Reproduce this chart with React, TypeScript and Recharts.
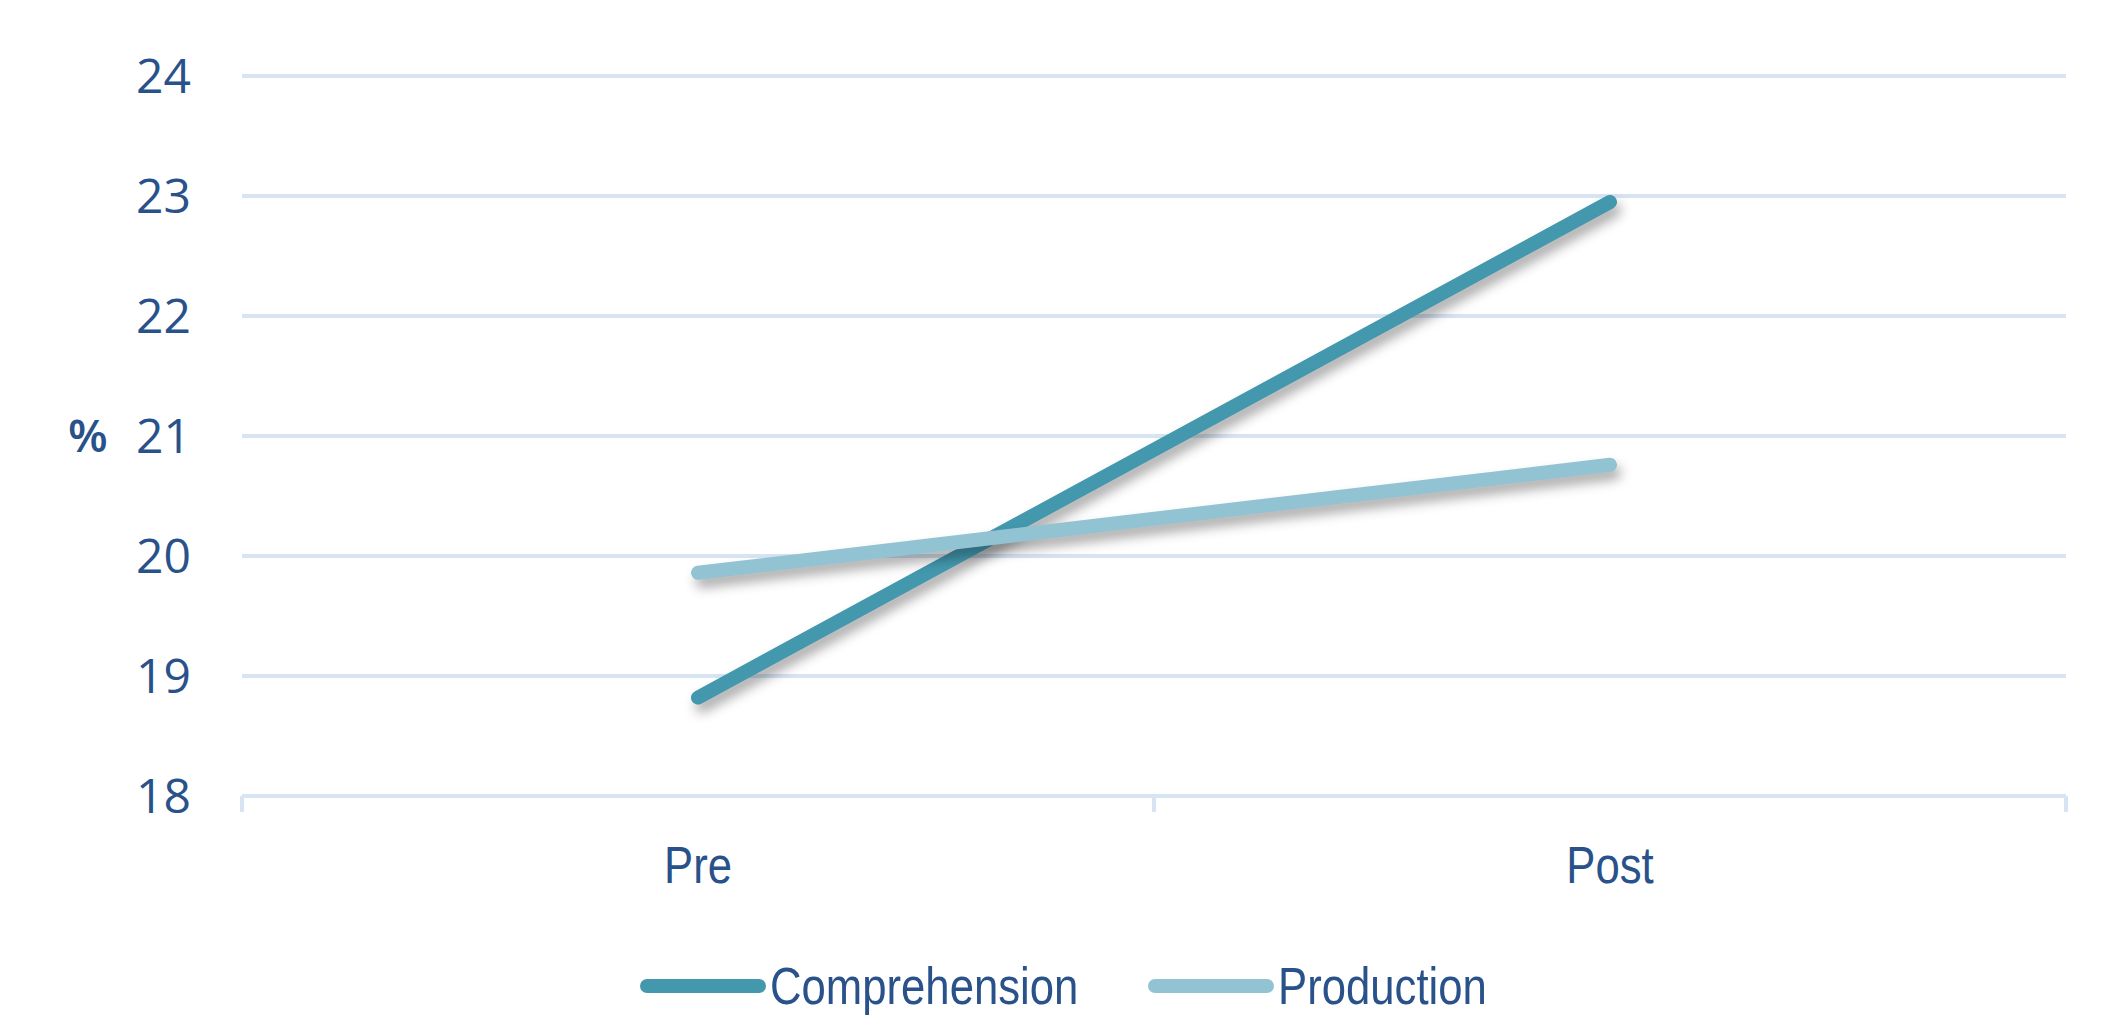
import React from "react";
import { LineChart, Line, XAxis, YAxis, CartesianGrid } from "recharts";

const categories: string[] = ["Pre", "Post"];
const comprehension: number[] = [18.82, 22.95];
const production: number[] = [19.86, 20.76];
const yTicks: number[] = [18, 19, 20, 21, 22, 23, 24];

const seriesNames: string[] = ["Comprehension", "Production"];
const COLORS: string[] = ["#4398AE", "#92C3D3"];

const TEXT = "#29518A";
const GRID = "#D6E4F4";
const LABEL_FONT = '"Liberation Sans", Arial, sans-serif';
const LABEL_SIZE = 52;
// no narrow face available, so squeeze the regular one horizontally
const SQUEEZE = 0.84;

// each category sits in the middle of its band; band edges get the small tick marks
const data = categories.map((label, i) => ({
  pos: i + 0.5,
  label,
  comprehension: comprehension[i],
  production: production[i],
}));

const xTicks: number[] = [];
for (let i = 0; i <= categories.length; i++) {
  xTicks.push(i);
  if (i < categories.length) xTicks.push(i + 0.5);
}

let measureCtx: CanvasRenderingContext2D | null = null;
const textWidth = (s: string): number => {
  if (!measureCtx) measureCtx = document.createElement("canvas").getContext("2d");
  if (!measureCtx) return s.length * LABEL_SIZE * 0.5;
  measureCtx.font = `${LABEL_SIZE}px ${LABEL_FONT}`;
  return measureCtx.measureText(s).width;
};

type TickProps = { x?: number; y?: number; payload?: { value: number } };

const BandTick: React.FC<TickProps> = ({ x = 0, y = 0, payload }) => {
  const v = payload ? payload.value : 0;
  if (Number.isInteger(v)) {
    return <line x1={x} y1={y} x2={x} y2={y + 16} stroke={GRID} strokeWidth={4} />;
  }
  return (
    <g transform={`translate(${x},${y + 50}) scale(${SQUEEZE},1)`}>
      <text x={0} y={0} dy="0.71em" textAnchor="middle" fill={TEXT} fontFamily={LABEL_FONT} fontSize={LABEL_SIZE}>
        {categories[Math.floor(v)]}
      </text>
    </g>
  );
};

const ChartLegend: React.FC = () => (
  <div
    style={{
      position: "absolute",
      top: 955,
      left: 640,
      display: "flex",
      alignItems: "center",
      fontFamily: LABEL_FONT,
      fontSize: LABEL_SIZE,
      color: TEXT,
      whiteSpace: "nowrap",
      lineHeight: "62px",
    }}
  >
    {seriesNames.map((name, i) => (
      <div key={name} style={{ display: "flex", alignItems: "center", marginRight: i === 0 ? 70 : 0 }}>
        <span
          style={{
            display: "inline-block",
            width: 126,
            height: 14,
            borderRadius: 7,
            backgroundColor: COLORS[i],
            marginRight: 4,
          }}
        />
        <span style={{ display: "inline-block", width: textWidth(name) * SQUEEZE, overflow: "visible" }}>
          <span style={{ display: "inline-block", transform: `scaleX(${SQUEEZE})`, transformOrigin: "left center" }}>
            {name}
          </span>
        </span>
      </div>
    ))}
  </div>
);

const App: React.FC = () => {
  return (
    <div style={{ position: "relative", width: 2103, height: 1018, background: "#fff" }}>
      <style>{`
        body { margin: 0; }
        .recharts-line-curve { filter: drop-shadow(4px 8px 6px rgba(0,0,0,0.33)); }
      `}</style>
      <LineChart width={2103} height={1018} data={data} margin={{ top: 76, right: 37, bottom: 122, left: 92 }}>
        <CartesianGrid vertical={false} stroke={GRID} strokeWidth={4} />
        <XAxis
          dataKey="pos"
          type="number"
          domain={[0, categories.length]}
          ticks={xTicks}
          interval={0}
          height={100}
          axisLine={{ stroke: GRID, strokeWidth: 4 }}
          tickLine={false}
          tickSize={0}
          tickMargin={0}
          tick={<BandTick />}
        />
        <YAxis
          type="number"
          domain={[18, 24]}
          ticks={yTicks}
          interval={0}
          width={150}
          axisLine={false}
          tickLine={false}
          tickSize={0}
          tickMargin={51}
          tick={{ fill: TEXT, fontSize: 48, fontFamily: '"Open Sans", sans-serif' }}
          label={{
            value: "%",
            position: "insideLeft",
            offset: -24,
            fill: TEXT,
            fontSize: 46,
            fontWeight: 600,
            fontFamily: '"Open Sans", sans-serif',
          }}
        />
        <Line
          type="linear"
          dataKey="comprehension"
          name={seriesNames[0]}
          stroke={COLORS[0]}
          strokeWidth={14}
          strokeLinecap="round"
          dot={false}
          activeDot={false}
          isAnimationActive={false}
        />
        <Line
          type="linear"
          dataKey="production"
          name={seriesNames[1]}
          stroke={COLORS[1]}
          strokeWidth={14}
          strokeLinecap="round"
          dot={false}
          activeDot={false}
          isAnimationActive={false}
        />
      </LineChart>
      <ChartLegend />
    </div>
  );
};

export default App;
